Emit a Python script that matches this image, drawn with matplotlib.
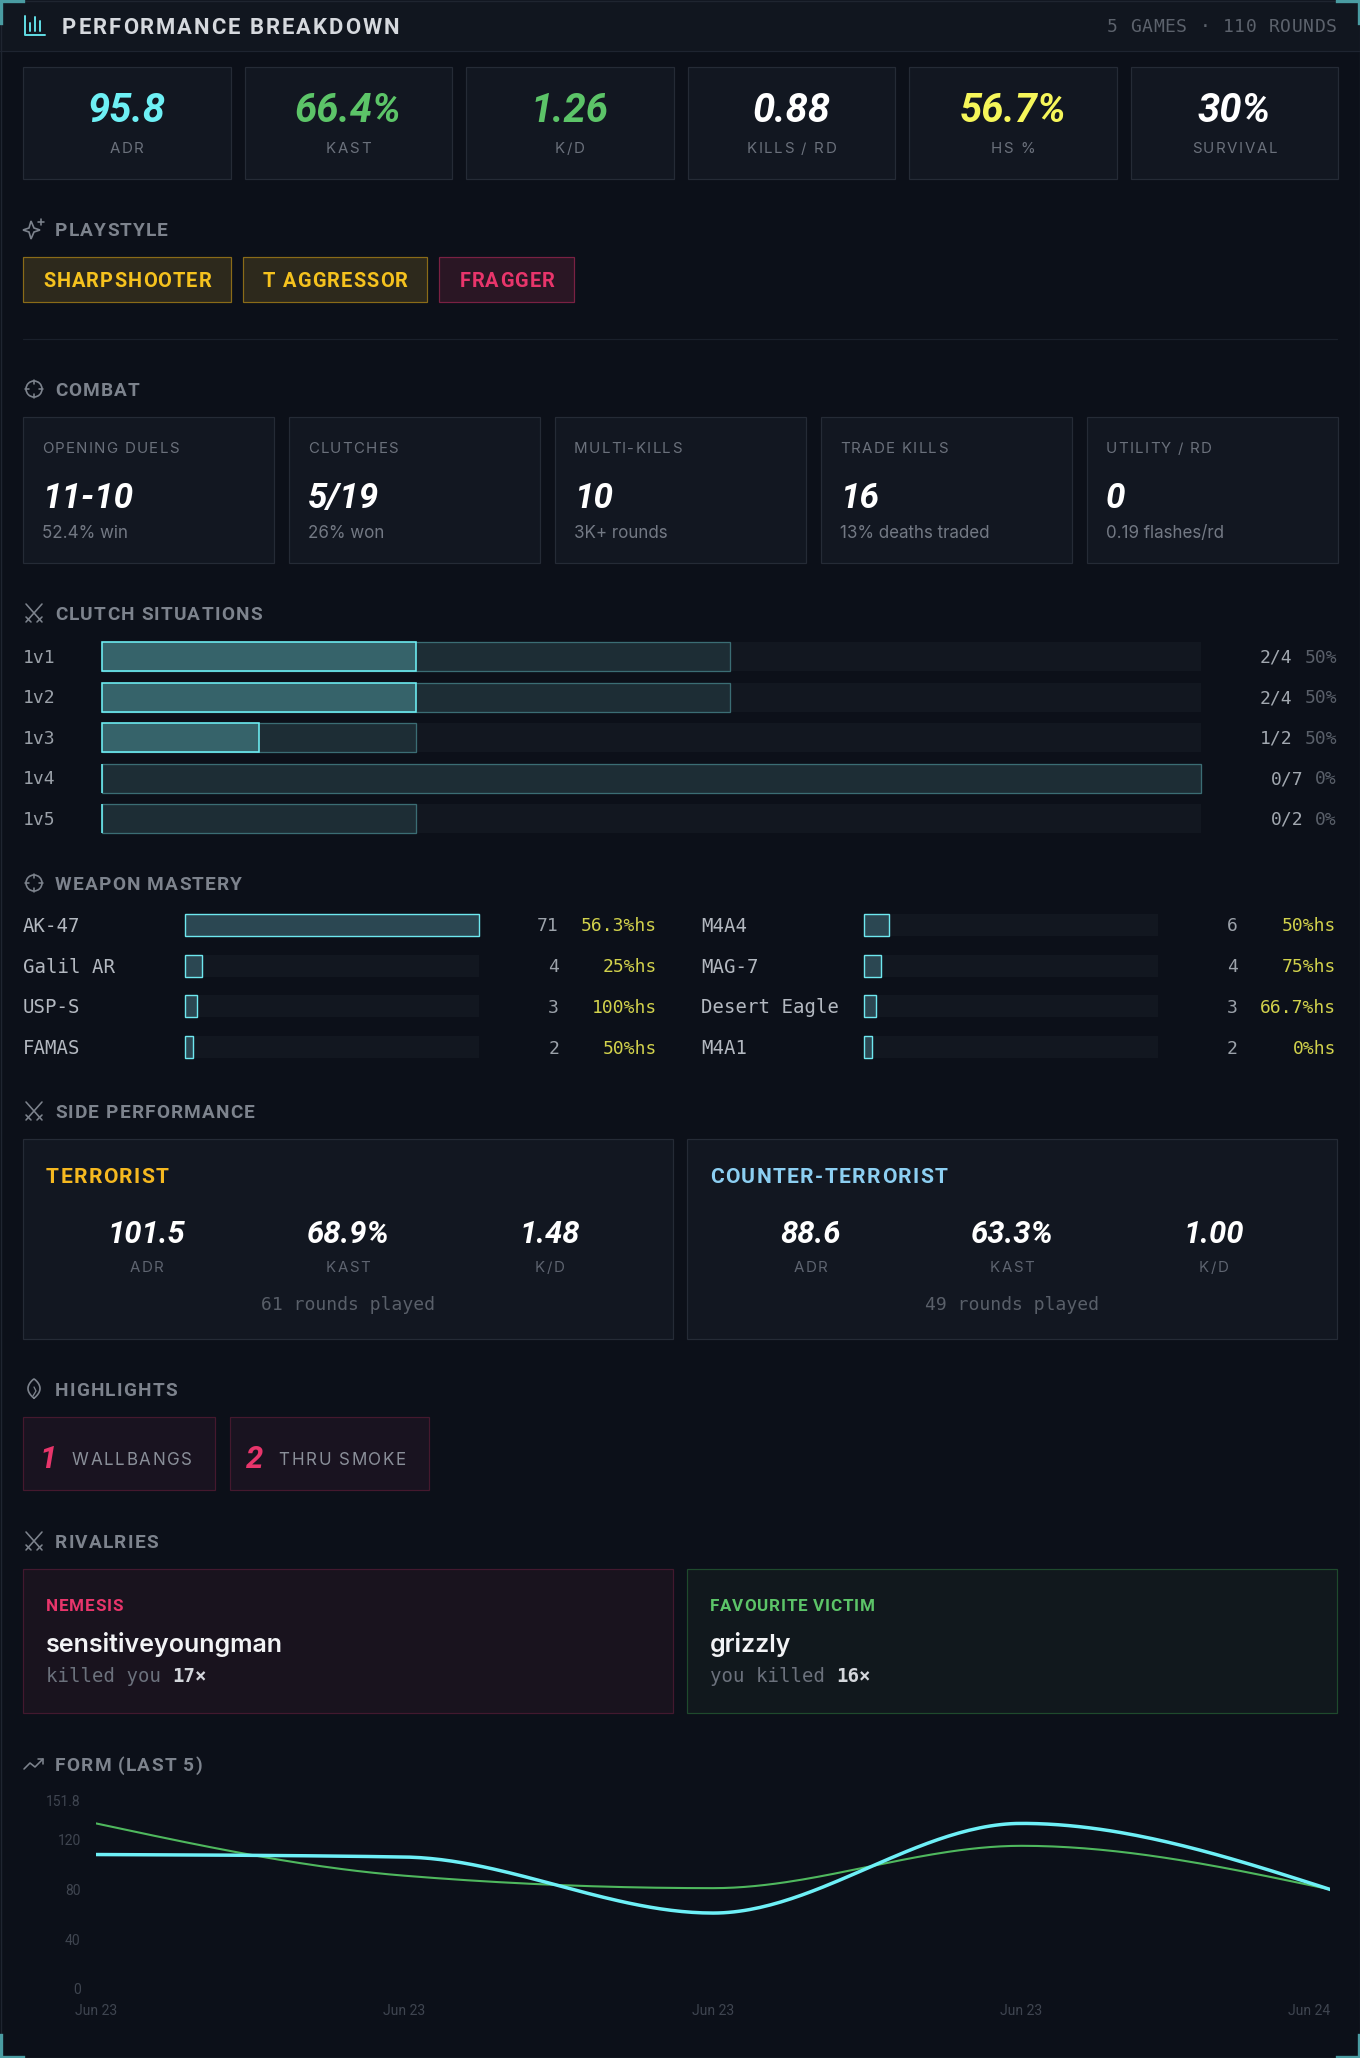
import numpy as np
import matplotlib
matplotlib.use("Agg")
import matplotlib.pyplot as plt
from matplotlib.patches import Rectangle, Circle, Polygon
from matplotlib.font_manager import FontProperties, findfont, get_font

# ---- data ----
stat_values = ["95.8", "66.4%", "1.26", "0.88", "56.7%", "30%"]
stat_labels = ["ADR", "KAST", "K/D", "KILLS / RD", "HS %", "SURVIVAL"]
stat_colors = ["#6ef0f5", "#5cc468", "#5cc468", "#ffffff", "#f6f65a", "#ffffff"]

tags = ["SHARPSHOOTER", "T AGGRESSOR", "FRAGGER"]
tag_kinds = ["gold", "gold", "pink"]

combat_labels = ["OPENING DUELS", "CLUTCHES", "MULTI-KILLS", "TRADE KILLS", "UTILITY / RD"]
combat_values = ["11-10", "5/19", "10", "16", "0"]
combat_subs = ["52.4% win", "26% won", "3K+ rounds", "13% deaths traded", "0.19 flashes/rd"]

clutch_labels = ["1v1", "1v2", "1v3", "1v4", "1v5"]
clutch_won = [2, 2, 1, 0, 0]
clutch_total = [4, 4, 2, 7, 2]

weapon_names = ["AK-47", "M4A4", "Galil AR", "MAG-7", "USP-S", "Desert Eagle", "FAMAS", "M4A1"]
weapon_kills = [71, 6, 4, 4, 3, 3, 2, 2]
weapon_hs = [56.3, 50, 25, 75, 100, 66.7, 50, 0]

side_names = ["TERRORIST", "COUNTER-TERRORIST"]
side_colors = ["#f5b820", "#8ccff2"]
side_adr = ["101.5", "88.6"]
side_kast = ["68.9%", "63.3%"]
side_kd = ["1.48", "1.00"]
side_rounds = [61, 49]

highlight_counts = [1, 2]
highlight_labels = ["WALLBANGS", "THRU SMOKE"]

rival_titles = ["NEMESIS", "FAVOURITE VICTIM"]
rival_names = ["sensitiveyoungman", "grizzly"]
rival_texts = ["killed you ", "you killed "]
rival_counts = [17, 16]

form_dates = ["Jun 23", "Jun 23", "Jun 23", "Jun 23", "Jun 24"]
form_adr = [108, 106, 61, 133, 80]
form_avg = [133, 91, 81, 115, 80]
form_ymax = 151.8

# ---- style ----
BG = "#0c1019"
CARD = "#121721"
EDGE = "#252b36"
MUTED = "#6b717c"
HEAD = "#7d838d"
SANS = ["Inter", "DejaVu Sans"]
COND = ["Roboto", "DejaVu Sans"]
MONO = ["DejaVu Sans Mono"]
W, H = 1360, 2058

fig = plt.figure(figsize=(W / 100, H / 100), dpi=100, facecolor=BG)
ax = fig.add_axes([0, 0, 1, 1])
ax.set_xlim(0, W)
ax.set_ylim(H, 0)
ax.axis("off")


def rect(x0, y0, x1, y1, fc, ec, lw=1.2):
    ax.add_patch(Rectangle((x0, y0), x1 - x0, y1 - y0, facecolor=fc,
                           edgecolor=ec, linewidth=lw * 0.72))


def advances(s, size, weight, style, family):
    prop = FontProperties(family=family, weight=weight, style=style)
    font = get_font(findfont(prop))
    font.set_size(size * 0.72, 100)
    return [font.load_char(ord(ch)).linearHoriAdvance / 65536 for ch in s]


def txt(x, yc, s, size, color, ha="left", weight="normal", style="normal",
        family=SANS, sp=0.0):
    # yc = middle of the capitals, size in pixels, sp = letter spacing in pixels
    kw = dict(fontsize=size * 0.72, color=color, va="baseline", fontweight=weight,
              fontstyle=style, family=family)
    yb = yc + 0.36 * size
    if sp == 0:
        ax.text(x, yb, s, ha=ha, **kw)
        return
    adv = advances(s, size, weight, style, family)
    total = sum(adv) + sp * (len(s) - 1)
    x0 = x - {"left": 0, "center": total / 2, "right": total}[ha]
    for ch, a in zip(s, adv):
        ax.text(x0, yb, ch, ha="left", **kw)
        x0 += a + sp


def twidth(s, size, weight="normal", style="normal", family=SANS, sp=0.0):
    return sum(advances(s, size, weight, style, family)) + sp * (len(s) - 1)


def line(xs, ys, color=HEAD, lw=1.6):
    ax.plot(xs, ys, color=color, lw=lw * 0.72, solid_capstyle="round")


def icon(kind, y):
    cx = 34
    if kind == "cross":
        ax.add_patch(Circle((cx, y), 8, fill=False, ec=HEAD, lw=1.2))
        for dx, dy in [(0, -8), (0, 8), (-8, 0), (8, 0)]:
            line([cx + dx * 0.6, cx + dx * 1.1], [y + dy * 0.6, y + dy * 1.1])
    elif kind == "swords":
        line([cx - 8, cx + 8], [y - 9, y + 9])
        line([cx + 8, cx - 8], [y - 9, y + 9])
        line([cx - 8, cx - 3], [y + 4, y + 9])
        line([cx + 8, cx + 3], [y + 4, y + 9])
    elif kind == "spark":
        pts = [(cx - 3, y - 8), (cx, y - 1), (cx + 6, y + 1), (cx, y + 3),
               (cx - 3, y + 10), (cx - 5, y + 3), (cx - 11, y + 1), (cx - 5, y - 1)]
        ax.add_patch(Polygon(pts, closed=True, fill=False, ec=HEAD, lw=1.2))
        line([cx + 7, cx + 7], [y - 10, y - 4])
        line([cx + 4, cx + 10], [y - 7, y - 7])
    elif kind == "flame":
        t = np.linspace(0, 1, 40)
        xl = cx - 6 * np.sin(np.pi * t) ** 0.8
        yl = y + 9 - 19 * t
        xr = cx + 6 * np.sin(np.pi * t) ** 0.8
        ax.plot(np.r_[xl, xr[::-1]], np.r_[yl, yl[::-1]], color=HEAD, lw=1.2)
        line([cx - 1, cx + 2, cx], [y + 7, y + 2, y - 2], HEAD, 1.3)
    elif kind == "trend":
        line([cx - 10, cx - 4, cx + 1, cx + 9], [y + 5, y - 1, y + 3, y - 5])
        line([cx + 4, cx + 9, cx + 9], [y - 5, y - 5, y])


def section(y, title, kind):
    icon(kind, y)
    txt(55, y, title, 19, HEAD, weight="bold", family=COND, sp=1.2)


# ---- frame / header ----
ax.add_patch(Rectangle((0, 0), W, 51, facecolor="#11161f", edgecolor="none"))
line([0, W], [51, 51], "#1e2430", 1.2)
ax.add_patch(Rectangle((0.5, 0.5), W - 1, H - 1, fill=False, ec="#1f2530", lw=1))
bc = "#4a9ca2"
for x0, y0, sx, sy in [(1, 1, 1, 1), (W - 1, 1, -1, 1), (1, H - 1, 1, -1), (W - 1, H - 1, -1, -1)]:
    ax.plot([x0, x0, x0 + 22 * sx], [y0 + 22 * sy, y0, y0], color=bc, lw=2.4,
            solid_joinstyle="miter")

# header icon (bar chart)
ic = "#5fd8e0"
line([25, 25, 45], [16, 35, 35], ic, 2)
for xx, hh in [(30, 8), (35, 14), (40, 10)]:
    line([xx, xx], [31, 31 - hh], ic, 2)
txt(62, 26, "PERFORMANCE BREAKDOWN", 22, "#d6d9de", weight="bold", family=COND, sp=2.0)
txt(1337, 26, "5 GAMES · 110 ROUNDS", 18, "#5c626c", ha="right", family=MONO, sp=0.7)

# ---- stat cards ----
cw, gap = 207.5, 14
for i in range(len(stat_values)):
    x0 = 23 + i * (cw + gap)
    rect(x0, 67, x0 + cw, 179, CARD, EDGE)
    txt(x0 + cw / 2, 108, stat_values[i], 40, stat_colors[i], ha="center",
        weight="bold", style="italic", family=COND)
    txt(x0 + cw / 2, 148, stat_labels[i], 15, MUTED, ha="center", sp=1.6)

# ---- playstyle ----
section(229, "PLAYSTYLE", "spark")
tag_style = {"gold": ("#2d291c", "#8a6b18", "#f5c21e"),
             "pink": ("#2a1624", "#7a2143", "#e8356b")}
tx = 23
for name, kind in zip(tags, tag_kinds):
    fc, ec, tc = tag_style[kind]
    wdt = twidth(name, 20, "bold", family=COND, sp=1.1) + 40
    rect(tx, 257, tx + wdt, 302, fc, ec)
    txt(tx + 20, 279.5, name, 20, tc, weight="bold", family=COND, sp=1.1)
    tx += wdt + 12

line([23, 1337], [339, 339], "#1a202b", 1.2)

# ---- combat ----
section(389, "COMBAT", "cross")
cw2, gap2 = 251, 15
for i in range(len(combat_labels)):
    x0 = 23 + i * (cw2 + gap2)
    rect(x0, 417, x0 + cw2, 563, CARD, EDGE)
    txt(x0 + 19, 448, combat_labels[i], 15, MUTED, sp=1.3)
    txt(x0 + 19, 495, combat_values[i], 35, "#ffffff", weight="bold",
        style="italic", family=COND)
    txt(x0 + 19, 532, combat_subs[i], 17, "#737984")

# ---- clutch situations ----
section(613, "CLUTCH SITUATIONS", "swords")
tr0, tr1 = 102, 1201
cmax = max(clutch_total)
for i, lab in enumerate(clutch_labels):
    yc = 656.5 + i * 40.5
    y0, y1 = yc - 14.5, yc + 14.5
    txt(23, yc, lab, 18, "#9aa0a8", family=MONO)
    rect(tr0, y0, tr1, y1, "#121720", "none", 0)
    wt = (tr1 - tr0) * clutch_total[i] / cmax
    rect(tr0, y0, tr0 + wt, y1, "#1d2d35", "#3b6d74", 1.3)
    ww = (tr1 - tr0) * clutch_won[i] / cmax
    rect(tr0, y0, tr0 + ww, y1, "#36636a", "#6ef0f5", 1.6)
    pct = round(100 * clutch_won[i] / clutch_total[i])
    txt(1337, yc, f"{pct}%", 18, "#5a606a", ha="right", family=MONO)
    txt(1337 - 11.2 * (len(str(pct)) + 2), yc, f"{clutch_won[i]}/{clutch_total[i]}",
        18, "#a2a8b0", ha="right", family=MONO)

# ---- weapon mastery ----
section(883, "WEAPON MASTERY", "cross")
kmax = max(weapon_kills)
cols = [dict(name=23, t0=185, t1=479, cnt=559, hs=657),
        dict(name=701, t0=864, t1=1158, cnt=1238, hs=1336)]
for i, nm in enumerate(weapon_names):
    c = cols[i % 2]
    yc = 925 + (i // 2) * 40.7
    txt(c["name"], yc, nm, 19, "#b3b8c0", family=MONO)
    rect(c["t0"], yc - 11, c["t1"], yc + 11, "#121720", "none", 0)
    bw = (c["t1"] - c["t0"]) * weapon_kills[i] / kmax
    rect(c["t0"], yc - 11, c["t0"] + bw, yc + 11, "#2b4752", "#6ee8f0", 1.4)
    txt(c["cnt"], yc, str(weapon_kills[i]), 18, "#9ca2aa", ha="right", family=MONO)
    txt(c["hs"], yc, f"{weapon_hs[i]:g}%hs", 18, "#d2d24c", ha="right", family=MONO)

# ---- side performance ----
section(1111, "SIDE PERFORMANCE", "swords")
for i in range(2):
    x0 = 23 + i * 664
    x1 = x0 + 650
    rect(x0, 1139, x1, 1339, CARD, EDGE)
    txt(x0 + 23, 1175, side_names[i], 21, side_colors[i], weight="bold",
        family=COND, sp=1.4)
    inner = (x1 - x0 - 46) / 3
    for j, (v, lab) in enumerate(zip([side_adr[i], side_kast[i], side_kd[i]],
                                     ["ADR", "KAST", "K/D"])):
        cx = x0 + 23 + inner * (j + 0.5)
        txt(cx, 1232, v, 31, "#ffffff", ha="center", weight="bold",
            style="italic", family=COND)
        txt(cx, 1267, lab, 15, "#5e6470", ha="center", sp=1.5)
    txt((x0 + x1) / 2, 1304, f"{side_rounds[i]} rounds played", 18, "#595f69",
        ha="center", family=MONO)

# ---- highlights ----
section(1389, "HIGHLIGHTS", "flame")
hx = 23
for n, lab in zip(highlight_counts, highlight_labels):
    wdt = 49 + twidth(lab, 17, sp=1.6) + 23
    rect(hx, 1417, hx + wdt, 1490, "#191320", "#45192e")
    txt(hx + 25, 1457, str(n), 31, "#e8356b", ha="center", weight="bold",
        style="italic", family=COND)
    txt(hx + 49, 1459, lab, 17, "#8a8f99", sp=1.6)
    hx += wdt + 15

# ---- rivalries ----
section(1541, "RIVALRIES", "swords")
rstyle = [("#19131e", "#43192f", "#e8356b"), ("#11181d", "#1f4a2d", "#5cc468")]
for i in range(2):
    x0 = 23 + i * 664
    fc, ec, tc = rstyle[i]
    rect(x0, 1569, x0 + 650, 1713, fc, ec)
    txt(x0 + 23, 1605, rival_titles[i], 17, tc, weight="bold", family=COND, sp=0.8)
    txt(x0 + 23, 1643, rival_names[i], 25, "#f2f3f5", weight="semibold")
    txt(x0 + 23, 1675, rival_texts[i], 19, "#6b717c", family=MONO)
    txt(x0 + 23 + 11.45 * len(rival_texts[i]), 1675, f"{rival_counts[i]}×", 19,
        "#d4d7dc", weight="bold", family=MONO)

# ---- form chart ----
section(1764, "FORM (LAST 5)", "trend")


def monotone(y, n=60):
    y = np.asarray(y, float)
    x = np.arange(len(y), dtype=float)
    s = np.diff(y)
    t = np.zeros(len(y))
    for k in range(1, len(y) - 1):
        p = (s[k - 1] + s[k]) / 2
        t[k] = (np.sign(s[k - 1]) + np.sign(s[k])) * min(abs(s[k - 1]), abs(s[k]), 0.5 * abs(p))
    t[0] = (3 * s[0] - t[1]) / 2
    t[-1] = (3 * s[-1] - t[-2]) / 2
    xs, ys = [], []
    for k in range(len(y) - 1):
        u = np.linspace(0, 1, n)
        h00 = 2 * u**3 - 3 * u**2 + 1
        h10 = u**3 - 2 * u**2 + u
        h01 = -2 * u**3 + 3 * u**2
        h11 = u**3 - u**2
        xs.append(x[k] + u)
        ys.append(h00 * y[k] + h10 * t[k] + h01 * y[k + 1] + h11 * t[k + 1])
    return np.concatenate(xs), np.concatenate(ys)


cax = fig.add_axes([96 / W, (H - 1989) / H, (1330 - 96) / W, (1989 - 1800) / H])
cax.set_facecolor("none")
gx, gy = monotone(form_avg)
cax.plot(gx, gy, color="#4fb85e", lw=1.5)
ax_x, ax_y = monotone(form_adr)
cax.plot(ax_x, ax_y, color="#6ef0f7", lw=2.5)
cax.set_xlim(0, len(form_adr) - 1)
cax.set_ylim(0, form_ymax)
cax.set_yticks([0, 40, 80, 120, form_ymax])
cax.set_yticklabels(["0", "40", "80", "120", f"{form_ymax:g}"])
cax.set_xticks(range(len(form_dates)))
cax.set_xticklabels(form_dates)
cax.tick_params(length=0, colors="#3f4550", labelsize=10, pad=11)
for lab in cax.get_xticklabels() + cax.get_yticklabels():
    lab.set_family(["Roboto", "DejaVu Sans"])
cax.get_xticklabels()[-1].set_ha("right")
for sp in cax.spines.values():
    sp.set_visible(False)

fig.savefig("out.png", dpi=100, facecolor=BG)
